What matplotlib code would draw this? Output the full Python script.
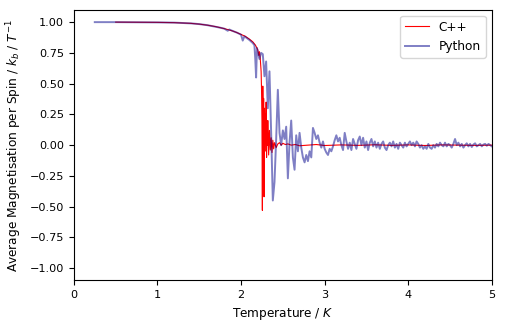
import matplotlib
matplotlib.use('Agg')
import matplotlib.pyplot as plt
import numpy as np

# C++ run: temperature / magnetisation per spin
cpp_T = [0.50, 0.75, 1.00, 1.20, 1.40, 1.50, 1.60, 1.70, 1.80, 1.85, 1.90, 1.95, 2.00,
         2.05, 2.10, 2.14, 2.17, 2.19, 2.20, 2.21, 2.22, 2.23, 2.24, 2.245, 2.25, 2.255,
         2.26, 2.265, 2.27, 2.275, 2.28, 2.285, 2.29, 2.295, 2.30, 2.305, 2.31, 2.315,
         2.32, 2.33, 2.34, 2.35, 2.36, 2.37, 2.38, 2.39, 2.40, 2.42, 2.44, 2.46, 2.48,
         2.50, 2.53, 2.56, 2.60, 2.65, 2.70, 2.80, 2.90, 3.00, 3.20, 3.40, 3.60, 3.80,
         4.00, 4.20, 4.40, 4.60, 4.80, 5.00]
cpp_M = [1.000, 0.999, 0.998, 0.996, 0.990, 0.984, 0.975, 0.963, 0.947, 0.938, 0.928, 0.915, 0.900,
         0.885, 0.862, 0.840, 0.815, 0.790, 0.775, 0.730, 0.760, 0.700, 0.600, 0.450, 0.200, -0.530,
         0.480, 0.100, 0.380, -0.420, 0.300, -0.050, 0.250, 0.050, 0.350, -0.100, 0.150, 0.000,
         0.200, -0.080, 0.120, -0.040, 0.060, -0.060, 0.040, -0.030, 0.020, -0.020, 0.010, 0.020, 0.000,
         0.015, 0.005, 0.010, 0.000, 0.005, -0.005, 0.000, 0.005, -0.003, 0.002, -0.002, 0.003, -0.002,
         0.002, -0.003, 0.002, 0.000, -0.002, 0.000]

# Python run
py_T = [0.25, 0.50, 0.75, 1.00, 1.20, 1.40, 1.50, 1.60, 1.70, 1.75, 1.80, 1.84, 1.86, 1.90,
        1.95, 1.98, 2.00, 2.02, 2.04, 2.06, 2.08, 2.10, 2.12, 2.14, 2.16, 2.17, 2.18, 2.19,
        2.20, 2.22, 2.24, 2.26, 2.28, 2.30, 2.32, 2.34, 2.36, 2.38, 2.40, 2.42, 2.44, 2.46,
        2.48, 2.50, 2.52, 2.54, 2.56, 2.58, 2.60, 2.62, 2.64, 2.66, 2.68, 2.70, 2.72, 2.74,
        2.76, 2.78, 2.80, 2.82, 2.84, 2.86, 2.88, 2.90, 2.92, 2.94, 2.96, 2.98, 3.00, 3.02,
        3.04, 3.06, 3.08, 3.10, 3.12, 3.14, 3.16, 3.18, 3.20, 3.22, 3.24, 3.26, 3.28, 3.30,
        3.32, 3.34, 3.36, 3.38, 3.40, 3.42, 3.44, 3.46, 3.48, 3.50, 3.52, 3.54, 3.56, 3.58,
        3.60, 3.62, 3.64, 3.66, 3.68, 3.70, 3.72, 3.74, 3.76, 3.78, 3.80, 3.82, 3.84, 3.86,
        3.88, 3.90, 3.92, 3.94, 3.96, 3.98, 4.00, 4.02, 4.04, 4.06, 4.08, 4.10, 4.12, 4.14,
        4.16, 4.18, 4.20, 4.22, 4.24, 4.26, 4.28, 4.30, 4.32, 4.34, 4.36, 4.38, 4.40, 4.42,
        4.44, 4.46, 4.48, 4.50, 4.52, 4.54, 4.56, 4.58, 4.60, 4.62, 4.64, 4.66, 4.68, 4.70,
        4.72, 4.74, 4.76, 4.78, 4.80, 4.82, 4.84, 4.86, 4.88, 4.90, 4.92, 4.94, 4.96, 4.98,
        5.00]
py_M = [1.000, 1.000, 0.999, 0.998, 0.996, 0.990, 0.984, 0.975, 0.962, 0.955, 0.947, 0.930, 0.940, 0.928,
        0.915, 0.905, 0.898, 0.850, 0.885, 0.875, 0.865, 0.855, 0.842, 0.830, 0.812, 0.700, 0.550, 0.790,
        0.760, 0.700, 0.750, 0.740, 0.560, 0.680, 0.300, 0.600, 0.100, -0.450, -0.300, 0.050, 0.450, 0.100,
        0.000, 0.120, 0.050, 0.150, -0.270, 0.020, 0.200, -0.100, -0.200, 0.080, -0.050, 0.100, -0.020, -0.100,
        -0.140, -0.080, -0.130, -0.050, -0.100, 0.140, 0.100, 0.050, 0.080, 0.020, -0.020, 0.030, -0.030, -0.060,
        -0.080, -0.030, -0.050, -0.010, 0.040, 0.080, 0.030, 0.060, 0.000, -0.040, 0.100, 0.030, -0.030, 0.020,
        -0.040, 0.050, 0.010, -0.030, 0.040, 0.070, 0.000, 0.060, -0.020, 0.030, -0.040, 0.020, 0.050, -0.010,
        0.030, -0.020, 0.020, -0.030, 0.010, 0.030, -0.020, -0.040, 0.000, 0.020, -0.010, 0.030, -0.020, 0.010,
        -0.030, 0.020, 0.000, -0.020, 0.020, -0.010, 0.010, 0.030, 0.000, 0.020, -0.010, 0.030, 0.010, -0.020,
        0.000, -0.030, -0.010, -0.030, 0.010, -0.020, -0.030, 0.000, -0.020, 0.010, -0.010, 0.020, 0.000, -0.010,
        0.020, -0.010, 0.010, 0.000, -0.020, 0.010, 0.050, 0.000, 0.020, -0.010, 0.010, -0.020, 0.000, 0.015,
        -0.010, 0.010, -0.015, 0.005, 0.015, -0.010, 0.000, 0.010, -0.010, 0.005, 0.010, -0.005, 0.010, 0.000,
        -0.010]

plt.rcParams['font.size'] = 8.7
plt.rcParams['xtick.labelsize'] = 8.1
plt.rcParams['ytick.labelsize'] = 8.1
fig = plt.figure(figsize=(5.06, 3.28), dpi=100)
ax = fig.add_axes([0.146, 0.145, 0.826, 0.825])

ax.plot(cpp_T, cpp_M, color='red', lw=0.8, label='C++')
ax.plot(py_T, py_M, color='darkblue', lw=1.4, alpha=0.5, label='Python')

ax.set_xlim(0, 5)
ax.set_ylim(-1.1, 1.1)
ax.set_xlabel('Temperature / $K$')
ax.set_ylabel('Average Magnetisation per Spin / $k_b$ / $T^{-1}$')
ax.legend(loc='upper right')

fig.savefig('out.png', dpi=100)
